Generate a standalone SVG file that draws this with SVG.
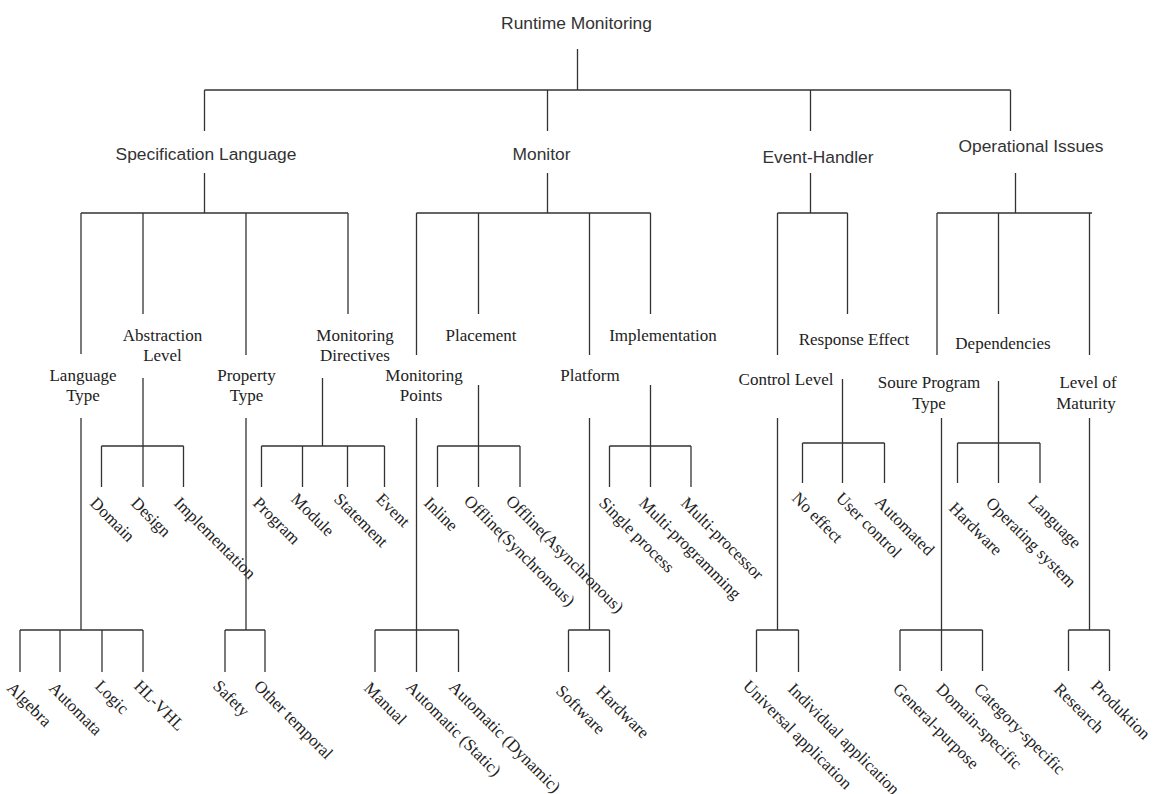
<svg xmlns="http://www.w3.org/2000/svg" width="1160" height="794" viewBox="0 0 1160 794">
  <style>
    .bg { fill: #ffffff; }
    .conn path { stroke: #333333; stroke-width: 1.3; fill: none; }
    .sans { font-family: "Liberation Sans", Arial, sans-serif; font-size: 17.4px; fill: #333333; text-anchor: middle; }
    .serif { font-family: "Liberation Serif", "Times New Roman", serif; font-size: 17px; fill: #222222; text-anchor: middle; }
    .leaf { font-family: "Liberation Serif", "Times New Roman", serif; font-size: 17px; fill: #222222; text-anchor: start; }
  </style>
  <rect class="bg" x="0" y="0" width="1160" height="794"/>

  <!-- tree connectors -->
  <g id="connectors" class="conn">
    <!-- root -->
    <path d="M577.5 49V90 M204.5 90H1010.5 M204.5 90V131 M547.5 90V131 M810.5 90V131 M1010.5 90V131"/>
    <!-- specification language -->
    <path d="M204.5 173V213 M81 213H348 M81 213V354 M143 213V314 M246 213V355 M348 213V314"/>
    <path d="M81 418V630 M20 630H143 M20 630V672 M60 630V672 M102 630V672 M143 630V672"/>
    <path d="M143 378V446 M101.5 446H183.5 M101.5 446V487 M143 446V487 M183.5 446V487"/>
    <path d="M246 418V630 M225 630H265 M225 630V672 M265 630V672"/>
    <path d="M322.5 378V446 M261.5 446H384.5 M261.5 446V487 M302.5 446V487 M347.5 446V487 M384.5 446V487"/>
    <!-- monitor -->
    <path d="M547.5 173V213 M416.5 213H650.5 M416.5 213V355 M478.5 213V314 M589.5 213V355 M650.5 213V314"/>
    <path d="M416.5 418V630 M375 630H458.5 M375 630V672 M416.5 630V672 M458.5 630V672"/>
    <path d="M478.5 385V446 M437.5 446H520 M437.5 446V487 M478.5 446V487 M520 446V487"/>
    <path d="M589.5 418V630 M568.5 630H609.5 M568.5 630V672 M609.5 630V672"/>
    <path d="M650.5 385V446 M609.5 446H691 M609.5 446V487 M650.5 446V487 M691 446V487"/>
    <!-- event-handler -->
    <path d="M810.5 173V213 M777.5 213H847.5 M777.5 213V355 M847.5 213V314"/>
    <path d="M777.5 418V630 M756.5 630H798.5 M756.5 630V672 M798.5 630V672"/>
    <path d="M842.5 379V443 M802.5 443H884.5 M802.5 443V483 M842.5 443V483 M884.5 443V483"/>
    <!-- operational issues -->
    <path d="M1015.5 173V213 M937 213H1092 M937 213V355 M998.5 213V314 M1089.5 213V355"/>
    <path d="M941.5 418V630 M900 630H982.5 M900 630V671 M941.5 630V671 M982.5 630V671"/>
    <path d="M998.5 381V443 M957.5 443H1040 M957.5 443V483 M998.5 443V483 M1040 443V483"/>
    <path d="M1089.5 418V630 M1068.5 630H1109.5 M1068.5 630V671 M1109.5 630V671"/>
  </g>

  <!-- top levels -->
  <g id="runtime-monitoring"><text class="sans" x="576.5" y="29">Runtime Monitoring</text></g>
  <g id="specification-language"><text class="sans" x="206" y="159.5">Specification Language</text></g>
  <g id="monitor"><text class="sans" x="541.5" y="159.5">Monitor</text></g>
  <g id="event-handler"><text class="sans" x="818" y="163">Event-Handler</text></g>
  <g id="operational-issues"><text class="sans" x="1031" y="152">Operational Issues</text></g>

  <!-- second level -->
  <g id="language-type"><text class="serif" x="83" y="381">Language</text><text class="serif" x="83" y="401">Type</text></g>
  <g id="abstraction-level"><text class="serif" x="162.5" y="341">Abstraction</text><text class="serif" x="162.5" y="361">Level</text></g>
  <g id="property-type"><text class="serif" x="246.5" y="381">Property</text><text class="serif" x="246.5" y="401">Type</text></g>
  <g id="monitoring-directives"><text class="serif" x="355" y="341">Monitoring</text><text class="serif" x="355" y="361">Directives</text></g>
  <g id="monitoring-points"><text class="serif" x="424" y="381">Monitoring</text><text class="serif" x="421" y="401">Points</text></g>
  <g id="placement"><text class="serif" x="481" y="341">Placement</text></g>
  <g id="platform"><text class="serif" x="590" y="381">Platform</text></g>
  <g id="implementation"><text class="serif" x="663" y="341">Implementation</text></g>
  <g id="control-level"><text class="serif" x="786" y="385">Control Level</text></g>
  <g id="response-effect"><text class="serif" x="854" y="345">Response Effect</text></g>
  <g id="dependencies"><text class="serif" x="1003" y="349">Dependencies</text></g>
  <g id="source-program-type"><text class="serif" x="929" y="388">Soure Program</text><text class="serif" x="929" y="409">Type</text></g>
  <g id="level-of-maturity"><text class="serif" x="1088" y="388">Level of</text><text class="serif" x="1086" y="409">Maturity</text></g>

  <!-- leaves (rotated) -->
  <g id="domain"><text class="leaf" transform="translate(89 504) rotate(45)">Domain</text></g>
  <g id="design"><text class="leaf" transform="translate(130 504) rotate(45)">Design</text></g>
  <g id="implementation-level"><text class="leaf" transform="translate(173 504) rotate(45)">Implementation</text></g>
  <g id="program"><text class="leaf" transform="translate(252 504) rotate(45)">Program</text></g>
  <g id="module"><text class="leaf" transform="translate(290 500) rotate(45)">Module</text></g>
  <g id="statement"><text class="leaf" transform="translate(333 500) rotate(45)">Statement</text></g>
  <g id="event"><text class="leaf" transform="translate(375 500) rotate(45)">Event</text></g>
  <g id="inline"><text class="leaf" transform="translate(423 504) rotate(45)">Inline</text></g>
  <g id="offline-sync"><text class="leaf" transform="translate(463 502) rotate(45)">Offline(Synchronous)</text></g>
  <g id="offline-async"><text class="leaf" transform="translate(505 502) rotate(45)">Offline(Asynchronous)</text></g>
  <g id="single-process"><text class="leaf" transform="translate(598 504) rotate(45)">Single process</text></g>
  <g id="multi-programming"><text class="leaf" transform="translate(638 504) rotate(45)">Multi-programming</text></g>
  <g id="multi-processor"><text class="leaf" transform="translate(680 504) rotate(45)">Multi-processor</text></g>
  <g id="no-effect"><text class="leaf" transform="translate(791 499) rotate(45)">No effect</text></g>
  <g id="user-control"><text class="leaf" transform="translate(835 499) rotate(45)">User control</text></g>
  <g id="automated"><text class="leaf" transform="translate(874 503) rotate(45)">Automated</text></g>
  <g id="dep-hardware"><text class="leaf" transform="translate(948 509) rotate(45)">Hardware</text></g>
  <g id="operating-system"><text class="leaf" transform="translate(985 504) rotate(45)">Operating system</text></g>
  <g id="dep-language"><text class="leaf" transform="translate(1027 502) rotate(45)">Language</text></g>

  <g id="algebra"><text class="leaf" transform="translate(6 689) rotate(45)">Algebra</text></g>
  <g id="automata"><text class="leaf" transform="translate(48 689) rotate(45)">Automata</text></g>
  <g id="logic"><text class="leaf" transform="translate(94 687) rotate(45)">Logic</text></g>
  <g id="hl-vhl"><text class="leaf" transform="translate(133 687) rotate(45)">HL-VHL</text></g>
  <g id="safety"><text class="leaf" transform="translate(212 687) rotate(45)">Safety</text></g>
  <g id="other-temporal"><text class="leaf" transform="translate(253 687) rotate(45)">Other temporal</text></g>
  <g id="manual"><text class="leaf" transform="translate(363 689) rotate(45)">Manual</text></g>
  <g id="automatic-static"><text class="leaf" transform="translate(405 688) rotate(45)">Automatic (Static)</text></g>
  <g id="automatic-dynamic"><text class="leaf" transform="translate(448 688) rotate(45)">Automatic (Dynamic)</text></g>
  <g id="software"><text class="leaf" transform="translate(555 692) rotate(45)">Software</text></g>
  <g id="platform-hardware"><text class="leaf" transform="translate(595 692) rotate(45)">Hardware</text></g>
  <g id="universal-application"><text class="leaf" transform="translate(742 687) rotate(45)">Universal application</text></g>
  <g id="individual-application"><text class="leaf" transform="translate(787 690) rotate(45)">Individual application</text></g>
  <g id="general-purpose"><text class="leaf" transform="translate(892 690) rotate(45)">General-purpose</text></g>
  <g id="domain-specific"><text class="leaf" transform="translate(935 690) rotate(45)">Domain-specific</text></g>
  <g id="category-specific"><text class="leaf" transform="translate(973 690) rotate(45)">Category-specific</text></g>
  <g id="research"><text class="leaf" transform="translate(1053 690) rotate(45)">Research</text></g>
  <g id="produktion"><text class="leaf" transform="translate(1090 687) rotate(45)">Produktion</text></g>
</svg>
